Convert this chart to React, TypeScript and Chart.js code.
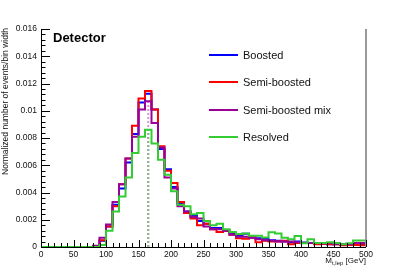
import React, { useEffect, useRef } from "react";
import { Chart, registerables } from "chart.js";

Chart.register(...registerables);

// Histogram binning (lower edges, GeV) and upper limit
const binLow = [
  0, 10, 20, 30, 40, 50, 60, 70, 80, 90,
  100, 110, 120, 130, 140, 150, 160, 170, 180, 190,
  200, 210, 220, 230, 240, 250, 260, 270, 280, 290,
  300, 310, 320, 330, 340, 350, 360, 370, 380, 390,
  400, 410, 420, 430, 440, 450, 460, 470, 480, 490,
];
const binUpper = 500;

const boosted = [
  0, 0, 0, 0, 0, 0, 0, 0, 0.00005, 0.00046,
  0.0015, 0.0031, 0.0043, 0.0062, 0.0083, 0.0106, 0.01125, 0.0101, 0.0072, 0.0057,
  0.0044, 0.0032, 0.0026, 0.0023, 0.0019, 0.0017, 0.0014, 0.0014, 0.0012, 0.001,
  0.0008, 0.00098, 0.0007, 0.00065, 0.0006, 0.0005, 0.00045, 0.0004, 0.00035, 0.0004,
  0.00033, 0.0003, 0.00025, 0.00025, 0.0002, 0.00022, 0.00015, 0.0002, 0.0002, 0.00018,
];
const semiBoosted = [
  0, 0, 0, 0, 0, 0, 0, 0, 0.00005, 0.0005,
  0.0015, 0.003, 0.0046, 0.0065, 0.0089, 0.0109, 0.01145, 0.0101, 0.0074, 0.0056,
  0.0047, 0.0033, 0.0025, 0.0021, 0.0016, 0.0017, 0.0013, 0.0011, 0.0012, 0.0009,
  0.00064, 0.0006, 0.0007, 0.00034, 0.00045, 0.0004, 0.0004, 0.00045, 0.0002, 0.0003,
  0.0003, 0.0003, 0.0002, 0.00022, 0.0002, 0.0002, 0.00013, 0.00015, 0.00015, 0.00012,
];
const semiBoostedMix = [
  0, 0, 0, 0, 0, 0, 0, 0, 0.0001, 0.00068,
  0.00166, 0.0033, 0.0046, 0.0065, 0.0081, 0.0101, 0.0107, 0.0091, 0.0073, 0.0051,
  0.0043, 0.003, 0.0026, 0.0022, 0.0021, 0.0015, 0.0013, 0.0013, 0.0012, 0.0009,
  0.00076, 0.00076, 0.00068, 0.00056, 0.0005, 0.00045, 0.0004, 0.0004, 0.0004, 0.00035,
  0.0003, 0.0003, 0.0003, 0.00025, 0.0003, 0.0002, 0.0002, 0.0002, 0.0003, 0.0003,
];
const resolved = [
  0, 0, 0, 0, 0, 0, 0, 0, 0, 0.00015,
  0.0012, 0.0026, 0.0037, 0.0051, 0.0069, 0.0081, 0.0086, 0.0076, 0.0064, 0.0053,
  0.0041, 0.0031, 0.003, 0.0024, 0.0025, 0.0019, 0.0016, 0.0017, 0.0013, 0.0011,
  0.00095, 0.001, 0.00083, 0.00083, 0.0007, 0.00108, 0.001, 0.00068, 0.00056, 0.0008,
  0.00027, 0.00056, 0.0003, 0.0003, 0.00034, 0.0003, 0.0002, 0.00027, 0.00047, 0.00047,
];

// Dashed marker (peak position) and its heights
const markerX = 165;
const markerMixTop = 0.0107;
const markerResolvedTop = 0.0086;

const seriesNames = ["Boosted", "Semi-boosted", "Semi-boosted mix", "Resolved"];
const seriesColors = ["#0000ff", "#ff0000", "#990099", "#33cc33"];

const xMin = 0;
const xMax = 500;
const yMin = 0;
const yMax = 0.016;
const xTicks = [0, 50, 100, 150, 200, 250, 300, 350, 400, 450, 500];
const xTickLabels = ["0", "50", "100", "150", "200", "250", "300", "350", "400", "450", "500"];
const yTicks = [0, 0.002, 0.004, 0.006, 0.008, 0.01, 0.012, 0.014, 0.016];
const yTickLabels = ["0", "0.002", "0.004", "0.006", "0.008", "0.01", "0.012", "0.014", "0.016"];
const xMinorStep = 10;
const yMinorStep = 0.0004;

const yTitle = "Normalized number of events/bin width";
const xTitleMain = "M";
const xTitleSub = "t,lep";
const xTitleUnit = " [GeV]";
const labelText = "Detector";

const FONT = "'Liberation Sans', Arial, Helvetica, sans-serif";

function histPoints(vals: number[]) {
  const pts = binLow.map((x, i) => ({ x, y: vals[i] }));
  pts.push({ x: binUpper, y: vals[vals.length - 1] });
  return pts;
}

const decorPlugin = {
  id: "rootDecor",
  afterDatasetsDraw(chart: any) {
    const ctx = chart.ctx as CanvasRenderingContext2D;
    const xs = chart.scales.x;
    const ys = chart.scales.y;
    const L = Math.round(xs.getPixelForValue(xMin));
    const R = Math.round(xs.getPixelForValue(xMax));
    const B = Math.round(ys.getPixelForValue(yMin));
    const T = Math.round(ys.getPixelForValue(yMax));
    ctx.save();

    // right frame (grey)
    ctx.strokeStyle = "#9a9a9a";
    ctx.lineWidth = 2;
    ctx.beginPath();
    ctx.moveTo(R, T);
    ctx.lineTo(R, B);
    ctx.stroke();

    // axes
    ctx.strokeStyle = "#000";
    ctx.lineWidth = 1;
    ctx.beginPath();
    ctx.moveTo(L + 0.5, T);
    ctx.lineTo(L + 0.5, B + 0.5);
    ctx.lineTo(R, B + 0.5);
    ctx.stroke();

    // y ticks
    ctx.beginPath();
    for (let v = yMin; v <= yMax + 1e-9; v += yMinorStep) {
      const py = Math.round(ys.getPixelForValue(v)) + 0.5;
      const isMajor = yTicks.some((t) => Math.abs(t - v) < 1e-9);
      ctx.moveTo(L, py);
      ctx.lineTo(L + (isMajor ? 9 : 4.5), py);
    }
    // x ticks
    for (let v = xMin; v <= xMax + 1e-9; v += xMinorStep) {
      const px = Math.round(xs.getPixelForValue(v)) + 0.5;
      const isMajor = xTicks.some((t) => Math.abs(t - v) < 1e-9);
      ctx.moveTo(px, B);
      ctx.lineTo(px, B - (isMajor ? 7 : 4));
    }
    ctx.stroke();

    // tick labels
    ctx.fillStyle = "#111";
    ctx.font = `8.5px ${FONT}`;
    ctx.textAlign = "right";
    ctx.textBaseline = "middle";
    yTicks.forEach((t, i) => {
      ctx.fillText(yTickLabels[i], L - 4, ys.getPixelForValue(t));
    });
    ctx.textAlign = "center";
    ctx.textBaseline = "top";
    xTicks.forEach((t, i) => {
      ctx.fillText(xTickLabels[i], xs.getPixelForValue(t), B + 3);
    });

    // y title
    ctx.save();
    ctx.font = `8.5px ${FONT}`;
    ctx.translate(5.5, T - 1);
    ctx.rotate(-Math.PI / 2);
    ctx.textAlign = "right";
    ctx.textBaseline = "middle";
    ctx.fillText(yTitle, 0, 0);
    ctx.restore();

    // x title
    ctx.textAlign = "left";
    ctx.textBaseline = "alphabetic";
    ctx.font = `8px ${FONT}`;
    const wM = ctx.measureText(xTitleMain).width;
    const wU = ctx.measureText(xTitleUnit).width;
    ctx.font = `6px ${FONT}`;
    const wS = ctx.measureText(xTitleSub).width;
    const x0 = R - (wM + wS + wU);
    const base = B + 16;
    ctx.font = `8px ${FONT}`;
    ctx.fillText(xTitleMain, x0, base);
    ctx.fillText(xTitleUnit, x0 + wM + wS, base);
    ctx.font = `6px ${FONT}`;
    ctx.fillText(xTitleSub, x0 + wM, base + 2);

    // label
    ctx.fillStyle = "#000";
    ctx.font = `bold 13px ${FONT}`;
    ctx.fillText(labelText, L + 12, T + 13);

    // legend
    const legY = [55, 82, 110, 137];
    ctx.font = `11px ${FONT}`;
    ctx.textBaseline = "middle";
    seriesNames.forEach((n, i) => {
      ctx.strokeStyle = seriesColors[i];
      ctx.lineWidth = 2;
      ctx.beginPath();
      ctx.moveTo(209, legY[i]);
      ctx.lineTo(238, legY[i]);
      ctx.stroke();
      ctx.fillStyle = "#111";
      ctx.fillText(n, 243, legY[i] + 0.5);
    });
    ctx.restore();
  },
};

export default function App() {
  const ref = useRef<HTMLCanvasElement | null>(null);
  useEffect(() => {
    if (!ref.current) return;
    const hists = [boosted, semiBoosted, semiBoostedMix, resolved];
    const datasets: any[] = [
      {
        label: "markerMix",
        data: [
          { x: markerX, y: 0 },
          { x: markerX, y: markerMixTop },
        ],
        borderColor: "rgba(205,120,205,0.8)",
        borderWidth: 2,
        borderDash: [2, 2],
        pointRadius: 0,
        order: 6,
      },
      {
        label: "markerRes",
        data: [
          { x: markerX, y: 0 },
          { x: markerX, y: markerResolvedTop },
        ],
        borderColor: "rgba(130,185,130,0.9)",
        borderWidth: 2,
        borderDash: [2, 2],
        pointRadius: 0,
        order: 5,
      },
    ];
    hists.forEach((h, i) => {
      datasets.push({
        label: seriesNames[i],
        data: histPoints(h),
        stepped: "before",
        borderColor: seriesColors[i],
        borderWidth: 2,
        pointRadius: 0,
        fill: false,
        order: 4 - i,
      });
    });
    const chart = new Chart(ref.current, {
      type: "line",
      data: { datasets },
      options: {
        animation: false,
        responsive: false,
        devicePixelRatio: 1,
        parsing: true,
        layout: { padding: { left: 41, right: 41, top: 29, bottom: 28 } },
        scales: {
          x: { type: "linear", min: xMin, max: xMax, display: false },
          y: { type: "linear", min: yMin, max: yMax, display: false },
        },
        plugins: {
          legend: { display: false },
          tooltip: { enabled: false },
        },
        elements: { line: { tension: 0 } },
      },
      plugins: [decorPlugin],
    });
    return () => chart.destroy();
  }, []);
  return (
    <div style={{ position: "fixed", left: 0, top: 0, width: 407, height: 275, background: "#fff" }}>
      <canvas ref={ref} width={407} height={275} style={{ width: 407, height: 275 }} />
    </div>
  );
}
